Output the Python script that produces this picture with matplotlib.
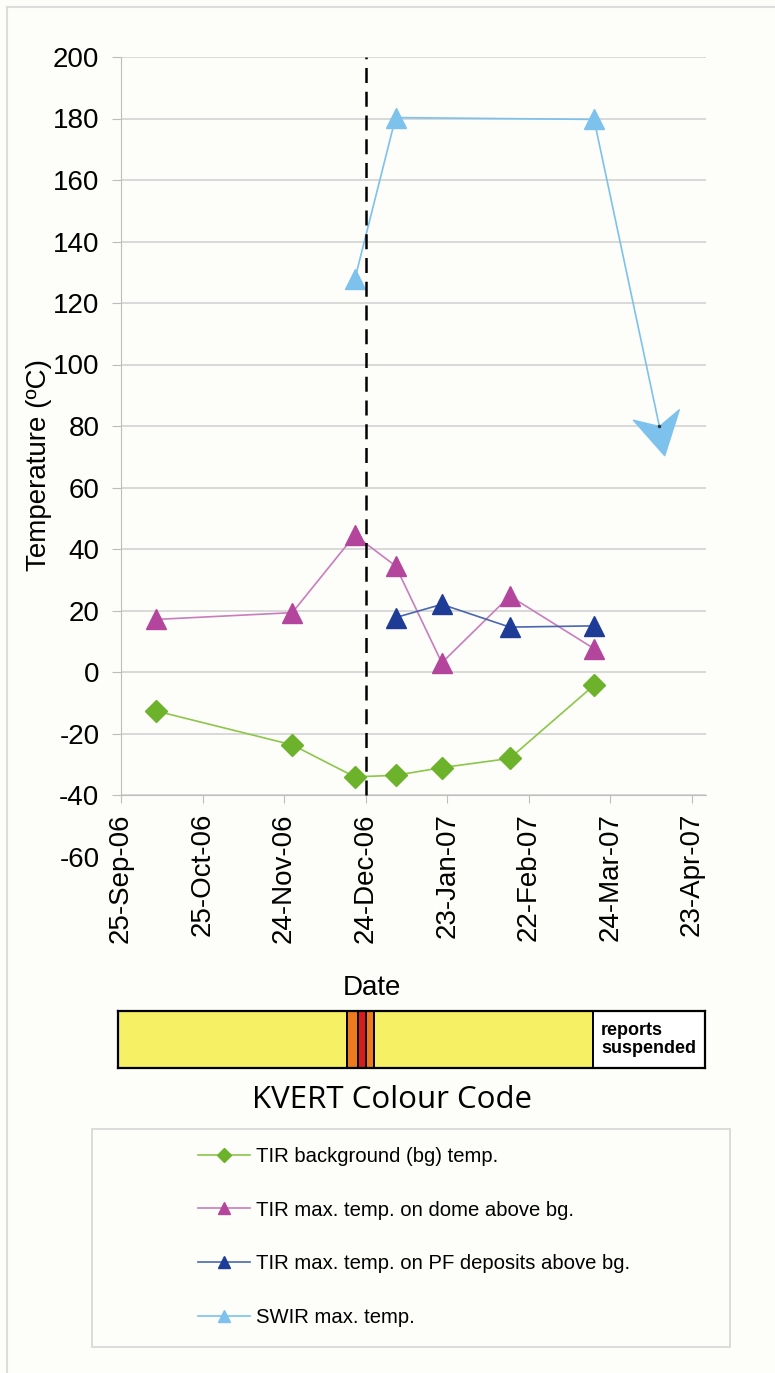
import datetime as dt
import matplotlib
matplotlib.use('Agg')
import matplotlib.pyplot as plt
import matplotlib.dates as mdates
from matplotlib.lines import Line2D
from matplotlib.path import Path
from matplotlib.markers import MarkerStyle
from matplotlib.patches import Rectangle


def d(s):
    return dt.datetime.strptime(s, '%d-%b-%y')


# TIR background temperature
bg_dates = ['08-Oct-06', '27-Nov-06', '20-Dec-06', '04-Jan-07', '21-Jan-07', '15-Feb-07', '18-Mar-07']
bg_temps = [-12.7, -23.7, -34.1, -33.6, -31.1, -28.1, -4.3]

# TIR max temperature on the dome above background
dome_dates = ['08-Oct-06', '27-Nov-06', '20-Dec-06', '04-Jan-07', '21-Jan-07', '15-Feb-07', '18-Mar-07']
dome_temps = [17.1, 19.3, 44.5, 34.5, 3.0, 24.7, 7.6]

# TIR max temperature on PF deposits above background
pf_dates = ['04-Jan-07', '21-Jan-07', '15-Feb-07', '18-Mar-07']
pf_temps = [17.7, 22.0, 14.6, 15.0]

# SWIR max temperature, plus the falling trend at the end
swir_dates = ['20-Dec-06', '04-Jan-07', '18-Mar-07']
swir_temps = [127.7, 180.3, 179.7]
swir_trend_dates = ['18-Mar-07', '11-Apr-07']
swir_trend_temps = [179.7, 80]

onset_date = '24-Dec-06'

tick_dates = ['25-Sep-06', '25-Oct-06', '24-Nov-06', '24-Dec-06',
              '23-Jan-07', '22-Feb-07', '24-Mar-07', '23-Apr-07']
x_start, x_end = '25-Sep-06', '28-Apr-07'
y_ticks = [-60, -40, -20, 0, 20, 40, 60, 80, 100, 120, 140, 160, 180, 200]

# KVERT colour code periods
code_starts = ['25-Sep-06', '18-Dec-06', '22-Dec-06', '25-Dec-06', '28-Dec-06', '18-Mar-07']
code_ends = ['18-Dec-06', '22-Dec-06', '25-Dec-06', '28-Dec-06', '18-Mar-07', '28-Apr-07']
code_colours = ['#f5f064', '#ee7a1e', '#d81c1c', '#ee7a1e', '#f5f064', 'white']

W, H = 775, 1373
plt.rcParams['font.family'] = ['Liberation Sans', 'DejaVu Sans']
plt.rcParams['axes.unicode_minus'] = False
fig = plt.figure(figsize=(W / 100, H / 100), dpi=100, facecolor='#fdfdf9')


def fx(px):
    return px / W


def fy(py):
    return 1 - py / H


# light frame round the figure
fig.add_artist(Line2D([fx(7), 1], [fy(7), fy(7)], color='#dcdcdc', lw=1.5))
fig.add_artist(Line2D([fx(7), fx(7)], [fy(7), 0], color='#dcdcdc', lw=1.5))

ax = fig.add_axes([fx(121), fy(856.5), fx(705.5) - fx(121), fy(57) - fy(856.5)])
ax.set_facecolor('none')

grid_c = '#d6d6d6'
for v in y_ticks[1:]:
    ax.axhline(v, color=grid_c, lw=1.3, zorder=0)

ax.plot([d(s) for s in bg_dates], bg_temps, color='#8cc64a', lw=1.2,
        marker='D', ms=11.5, mfc='#6cb22a', mec='#6cb22a', zorder=3)
ax.plot([d(s) for s in dome_dates], dome_temps, color='#c97dbd', lw=1.2,
        marker='^', ms=14, mfc='#b3469c', mec='#b3469c', zorder=3)
ax.plot([d(s) for s in pf_dates], pf_temps, color='#4a66b0', lw=1.2,
        marker='^', ms=14, mfc='#1e3c96', mec='#1e3c96', zorder=3)
ax.plot([d(s) for s in swir_dates], swir_temps, color='#7cc2ec', lw=1.2,
        marker='^', ms=14, mfc='#7cc2ec', mec='#7cc2ec', zorder=3)

# trend arrow with a notched head
ax.plot([d(s) for s in swir_trend_dates], swir_trend_temps, color='#7cc2ec', lw=1.2, zorder=3)
head = Path([(5, -28), (-25, 6), (0, 0), (19, 16), (5, -28)],
            [Path.MOVETO, Path.LINETO, Path.LINETO, Path.LINETO, Path.CLOSEPOLY])
ax.plot(d(swir_trend_dates[-1]), swir_trend_temps[-1], marker=MarkerStyle(head),
        ms=42, mfc='#7cc2ec', mec='#7cc2ec', zorder=4)
ax.plot(d(swir_trend_dates[-1]), swir_trend_temps[-1], marker='o', ms=1.5,
        color='#333333', zorder=5)

ax.plot([d(onset_date), d(onset_date)], [-40, 200], color='black', lw=1.8,
        ls=(0, (6, 3.5)), zorder=4)

ax.set_xlim(d(x_start), d(x_end))
ax.set_ylim(-60, 200)
ax.set_yticks(y_ticks)
ax.set_xticks([d(s) for s in tick_dates])
ax.xaxis.set_major_formatter(mdates.DateFormatter('%d-%b-%y'))
ax.tick_params(axis='x', labelsize=20, rotation=90, length=6, color='#bdbdbd', pad=7)
ax.tick_params(axis='y', labelsize=20, length=6.5, color='#bdbdbd', pad=9)
ax.yaxis.get_major_ticks()[0].tick1line.set_visible(False)

for s in ['top', 'right']:
    ax.spines[s].set_visible(False)
ax.spines['left'].set_bounds(-40, 200)
ax.spines['left'].set_color('#bdbdbd')
ax.spines['bottom'].set_position(('data', -40))
ax.spines['bottom'].set_color('#bdbdbd')

ax.set_ylabel('Temperature (ºC)', fontsize=20)
ax.yaxis.set_label_coords(-0.118, 0.49)

fig.text(fx(372), fy(988), 'Date', fontsize=20, ha='center', va='center')

# KVERT colour code strip
bar = fig.add_axes([fx(118), fy(1068), fx(704.5) - fx(118), fy(1011) - fy(1068)])
for s, e, c in zip(code_starts, code_ends, code_colours):
    bar.axvspan(d(s), d(e), facecolor=c, edgecolor='black', lw=1.4)
bar.set_xlim(d(x_start), d(x_end))
bar.set_ylim(0, 1)
bar.set_xticks([])
bar.set_yticks([])
for sp in bar.spines.values():
    sp.set_linewidth(1.6)
bar.annotate('reports\nsuspended', (d(code_starts[-1]), 0.5), xytext=(6, 0),
             textcoords='offset points', ha='left', va='center',
             fontsize=13, fontweight='bold', linespacing=1.1)

fig.text(fx(392), fy(1100), 'KVERT Colour Code', fontsize=22.5, ha='center',
         va='center', family='Open Sans')

# legend
fig.add_artist(Rectangle((fx(92), fy(1347)), fx(730) - fx(92), fy(1129) - fy(1347),
                         transform=fig.transFigure, facecolor='none',
                         edgecolor='#d9d9d9', lw=1.3))
handles = [
    Line2D([], [], color='#8cc64a', lw=1.2, marker='D', ms=7, mfc='#6cb22a', mec='#6cb22a'),
    Line2D([], [], color='#c97dbd', lw=1.2, marker='^', ms=9, mfc='#b3469c', mec='#b3469c'),
    Line2D([], [], color='#4a66b0', lw=1.2, marker='^', ms=9, mfc='#1e3c96', mec='#1e3c96'),
    Line2D([], [], color='#7cc2ec', lw=1.2, marker='^', ms=9, mfc='#7cc2ec', mec='#7cc2ec'),
]
labels = ['TIR background (bg) temp.',
          'TIR max. temp. on dome above bg.',
          'TIR max. temp. on PF deposits above bg.',
          'SWIR max. temp.']
fig.legend(handles, labels, loc='center left', bbox_to_anchor=(fx(198), fy(1237)),
           frameon=False, borderpad=0, borderaxespad=0, handlelength=2.56,
           handletextpad=0.3, labelspacing=1.72,
           prop={'family': 'Liberation Sans', 'size': 14.6})

fig.savefig('out.png', dpi=100, facecolor=fig.get_facecolor())
